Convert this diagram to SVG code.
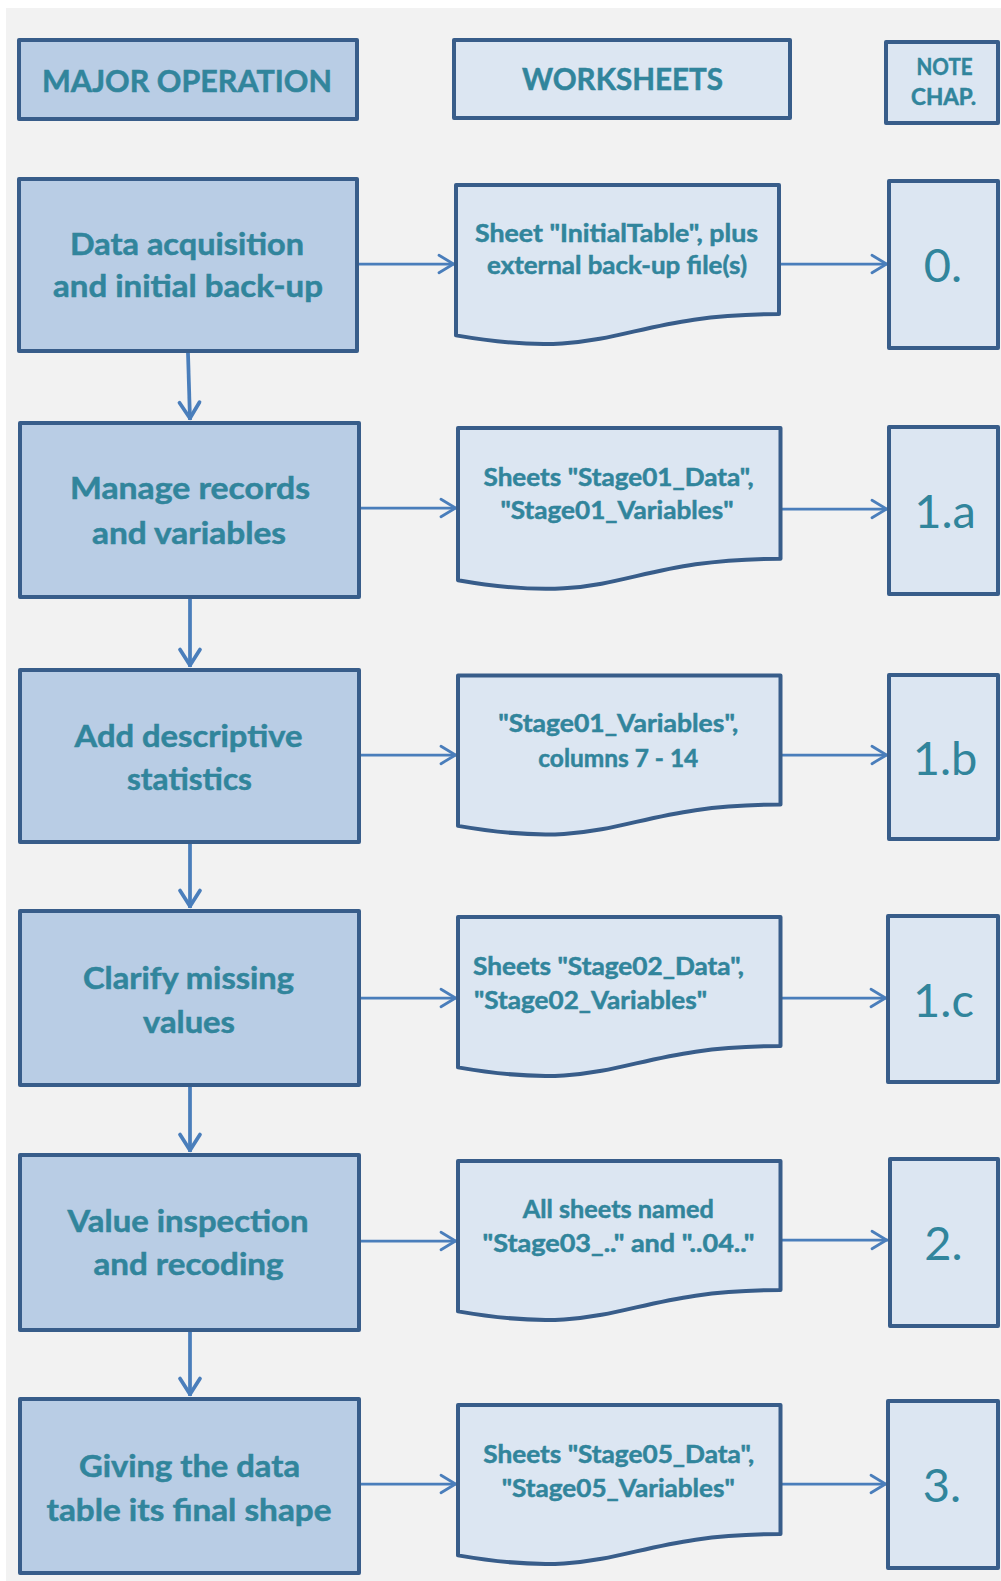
<svg xmlns="http://www.w3.org/2000/svg" width="1001" height="1581" viewBox="0 0 1001 1581">
<style>
.op{fill:#b9cde5;stroke:#385d8a;stroke-width:4;stroke-linejoin:round}
.lt{fill:#dce6f2;stroke:#385d8a;stroke-width:4;stroke-linejoin:round}
.t{font-family:Lato,"Liberation Sans",sans-serif;font-weight:bold;fill:#31859c;stroke:#31859c;stroke-width:0.5;text-anchor:middle}
.big{font-size:30px}
.mid{font-size:24.5px}
.sm{font-size:22px}
.num{font-family:Lato,"Liberation Sans",sans-serif;font-weight:normal;font-size:47px;fill:#31859c;text-anchor:middle}
.h{fill:none;stroke:#4a7ebb;stroke-width:2.75;marker-end:url(#ah)}
.v{fill:none;stroke:#4a7ebb;stroke-width:3.75;marker-end:url(#av)}
</style>
<defs>
<marker id="ah" markerUnits="userSpaceOnUse" viewBox="-20 -12 22 24" refX="0" refY="0" markerWidth="22" markerHeight="24" orient="auto" overflow="visible">
<path d="M-16,-8.7 L-1.5,0 L-16,8.7" fill="none" stroke="#4a7ebb" stroke-width="2.75" stroke-linecap="round" stroke-linejoin="round"/>
</marker>
<marker id="av" markerUnits="userSpaceOnUse" viewBox="-22 -13 24 26" refX="0" refY="0" markerWidth="24" markerHeight="26" orient="auto" overflow="visible">
<path d="M-17.5,-10 L-1.8,0 L-17.5,10" fill="none" stroke="#4a7ebb" stroke-width="3.75" stroke-linecap="round" stroke-linejoin="round"/>
</marker>
</defs>
<rect x="0" y="0" width="1001" height="1581" fill="#ffffff"/>
<rect x="6" y="8" width="995" height="1573" fill="#f2f2f2"/>

<g id="connectors">
<path class="v" d="M188,353 L190,420"/>
<path class="v" d="M190,599 L190,667"/>
<path class="v" d="M190,844 L190,908"/>
<path class="v" d="M190,1087 L190,1152"/>
<path class="v" d="M190,1332 L190,1396"/>
<path class="h" d="M359,264 L455,264"/>
<path class="h" d="M361,508 L457,508"/>
<path class="h" d="M361,755 L457,755"/>
<path class="h" d="M361,998 L457,998"/>
<path class="h" d="M361,1241 L457,1241"/>
<path class="h" d="M361,1484 L457,1484"/>
<path class="h" d="M781,264 L888,264"/>
<path class="h" d="M782,509 L888,509"/>
<path class="h" d="M782,755 L888,755"/>
<path class="h" d="M782,998 L887,998"/>
<path class="h" d="M782,1240 L888,1240"/>
<path class="h" d="M782,1484 L887,1484"/>
</g>

<g id="hdr-major">
<rect class="op" x="19" y="40" width="338" height="79"/>
<text class="t big" x="187" y="91.5" textLength="290" lengthAdjust="spacingAndGlyphs">MAJOR OPERATION</text>
</g>
<g id="hdr-worksheets">
<rect class="lt" x="454" y="40" width="336" height="78"/>
<text class="t big" x="622.5" y="90" textLength="201" lengthAdjust="spacingAndGlyphs">WORKSHEETS</text>
</g>
<g id="hdr-note">
<rect class="lt" x="886" y="42" width="112" height="81"/>
<text class="t sm" x="944.5" y="75" textLength="56" lengthAdjust="spacingAndGlyphs">NOTE</text>
<text class="t sm" x="943.5" y="105" textLength="65" lengthAdjust="spacingAndGlyphs">CHAP.</text>
</g>

<g id="op1">
<rect class="op" x="19" y="179" width="338" height="172"/>
<text class="t big" x="187" y="255" textLength="234" lengthAdjust="spacingAndGlyphs">Data acquisition</text>
<text class="t big" x="188" y="297" textLength="270" lengthAdjust="spacingAndGlyphs">and initial back-up</text>
</g>
<g id="op2">
<rect class="op" x="20" y="423" width="339" height="174"/>
<text class="t big" x="190" y="498.5" textLength="240" lengthAdjust="spacingAndGlyphs">Manage records</text>
<text class="t big" x="189" y="543.5" textLength="194" lengthAdjust="spacingAndGlyphs">and variables</text>
</g>
<g id="op3">
<rect class="op" x="20" y="670" width="339" height="172"/>
<text class="t big" x="188.5" y="747" textLength="228" lengthAdjust="spacingAndGlyphs">Add descriptive</text>
<text class="t big" x="189.5" y="790" textLength="125" lengthAdjust="spacingAndGlyphs">statistics</text>
</g>
<g id="op4">
<rect class="op" x="20" y="911" width="339" height="174"/>
<text class="t big" x="188.5" y="988.5" textLength="211" lengthAdjust="spacingAndGlyphs">Clarify missing</text>
<text class="t big" x="189" y="1032.5" textLength="92" lengthAdjust="spacingAndGlyphs">values</text>
</g>
<g id="op5">
<rect class="op" x="20" y="1155" width="339" height="175"/>
<text class="t big" x="188" y="1231.5" textLength="241" lengthAdjust="spacingAndGlyphs">Value inspection</text>
<text class="t big" x="188.5" y="1275" textLength="190" lengthAdjust="spacingAndGlyphs">and recoding</text>
</g>
<g id="op6">
<rect class="op" x="20" y="1399" width="339" height="174"/>
<text class="t big" x="189.5" y="1476.5" textLength="221" lengthAdjust="spacingAndGlyphs">Giving the data</text>
<text class="t big" x="189" y="1521" textLength="285" lengthAdjust="spacingAndGlyphs">table its final shape</text>
</g>

<g id="ws1">
<path class="lt" d="M456,185 H779 V314.1 C617.5,314.1 617.5,363.3 456,335.4 Z"/>
<text class="t mid" x="616.5" y="242" textLength="283" lengthAdjust="spacingAndGlyphs">Sheet "InitialTable", plus</text>
<text class="t mid" x="617" y="274" textLength="260" lengthAdjust="spacingAndGlyphs">external back-up file(s)</text>
</g>
<g id="ws2">
<path class="lt" d="M458,428 H780.5 V558.7 C619.3,558.7 619.3,608.5 458,580.2 Z"/>
<text class="t mid" x="618.5" y="486" textLength="270" lengthAdjust="spacingAndGlyphs">Sheets "Stage01_Data",</text>
<text class="t mid" x="617" y="518.5" textLength="233" lengthAdjust="spacingAndGlyphs">"Stage01_Variables"</text>
</g>
<g id="ws3">
<path class="lt" d="M458,675.5 H780.5 V804.6 C619.3,804.6 619.3,853.8 458,825.9 Z"/>
<text class="t mid" x="618.3" y="731.5" textLength="240" lengthAdjust="spacingAndGlyphs">"Stage01_Variables",</text>
<text class="t mid" x="618.3" y="766.5" textLength="160" lengthAdjust="spacingAndGlyphs">columns 7 - 14</text>
</g>
<g id="ws4">
<path class="lt" d="M458,917 H780.5 V1046.1 C619.3,1046.1 619.3,1095.3 458,1067.4 Z"/>
<text class="t mid" x="473" y="975" textLength="271" lengthAdjust="spacingAndGlyphs" style="text-anchor:start">Sheets "Stage02_Data",</text>
<text class="t mid" x="474" y="1009" textLength="233" lengthAdjust="spacingAndGlyphs" style="text-anchor:start">"Stage02_Variables"</text>
</g>
<g id="ws5">
<path class="lt" d="M458,1161 H780.5 V1290.1 C619.3,1290.1 619.3,1339.3 458,1311.4 Z"/>
<text class="t mid" x="618.3" y="1218.3" textLength="191" lengthAdjust="spacingAndGlyphs">All sheets named</text>
<text class="t mid" x="618.5" y="1251.7" textLength="272" lengthAdjust="spacingAndGlyphs">"Stage03_.." and "..04.."</text>
</g>
<g id="ws6">
<path class="lt" d="M458,1405 H780.5 V1534.1 C619.3,1534.1 619.3,1583.3 458,1555.4 Z"/>
<text class="t mid" x="618.7" y="1462.7" textLength="271" lengthAdjust="spacingAndGlyphs">Sheets "Stage05_Data",</text>
<text class="t mid" x="618.3" y="1496.7" textLength="233" lengthAdjust="spacingAndGlyphs">"Stage05_Variables"</text>
</g>

<g id="ch0">
<rect class="lt" x="889" y="181" width="109" height="167"/>
<text class="num" x="943" y="281.5">0.</text>
</g>
<g id="ch1a">
<rect class="lt" x="889" y="427" width="109" height="167"/>
<text class="num" x="945" y="528.3">1.a</text>
</g>
<g id="ch1b">
<rect class="lt" x="889" y="675" width="109" height="164"/>
<text class="num" x="945" y="774.5">1.b</text>
</g>
<g id="ch1c">
<rect class="lt" x="888" y="916" width="110" height="166"/>
<text class="num" x="943.5" y="1016.7">1.c</text>
</g>
<g id="ch2">
<rect class="lt" x="890" y="1159" width="108" height="167"/>
<text class="num" x="943.5" y="1260">2.</text>
</g>
<g id="ch3">
<rect class="lt" x="888" y="1401" width="110" height="167"/>
<text class="num" x="942" y="1502">3.</text>
</g>
</svg>
